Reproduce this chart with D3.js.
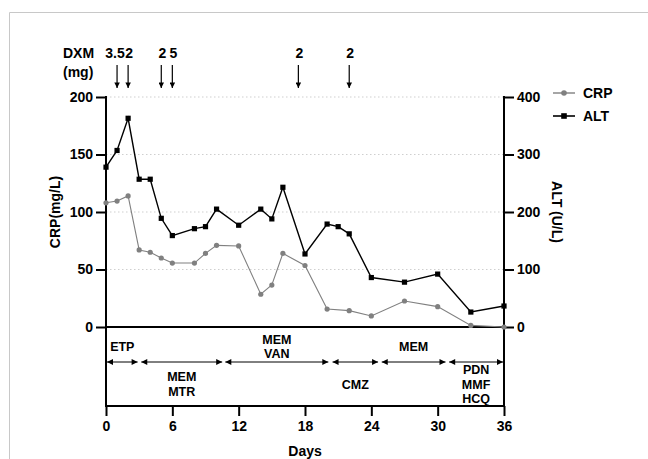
<!DOCTYPE html>
<html>
<head>
<meta charset="utf-8">
<script src="https://cdn.jsdelivr.net/npm/d3@7"></script>
<style>
  body { margin: 0; background: #fff; }
  svg text { font-family: "Liberation Sans", Arial, sans-serif; font-weight: bold; }
</style>
</head>
<body>
<svg id="chart" width="648" height="459"></svg>
<script>
// data
const crpDays = [0, 1, 2, 3, 4, 5, 6, 8, 9, 10, 12, 14, 15, 16, 18, 20, 22, 24, 27, 30, 33, 36];
const crpValues = [108, 109.5, 114, 67, 65, 60, 55.6, 55.6, 64, 71, 70.5, 28.5, 36.5, 64, 53.5, 15.6, 14.2, 9.6, 22.6, 17.7, 1.4, 0];
const altDays = [0, 1, 2, 3, 4, 5, 6, 8, 9, 10, 12, 14, 15, 16, 18, 20, 21, 22, 24, 27, 30, 33, 36];
const altValues = [278, 307, 363, 257, 257, 189, 159, 171, 174.5, 205, 177, 205, 188, 243, 127, 179, 174.5, 162, 86, 78, 92, 26, 36.5];

const dxmDays = [1, 2, 5, 6, 17.4, 22];
const dxmDoses = ['3.5', '2', '2', '5', '2', '2'];

const crpTicks = [0, 50, 100, 150, 200];
const altTicks = [0, 100, 200, 300, 400];
const dayTicks = [0, 6, 12, 18, 24, 30, 36];

// treatments: start day, end day, text lines, label above/below the arrow
const drugStart = [0, 3.1, 10.7, 20.4, 24.85, 30.95];
const drugEnd = [2.95, 10.6, 20.2, 24.7, 30.8, 36];
const drugNames = [['ETP'], ['MEM', 'MTR'], ['MEM', 'VAN'], ['CMZ'], ['MEM'], ['PDN', 'MMF', 'HCQ']];
const drugAbove = [true, false, true, false, true, false];

const svg = d3.select('#chart');

// light frame of the picture
svg.append('path')
    .attr('d', 'M9.5 459 V12.5 H648')
    .attr('fill', 'none')
    .attr('stroke', '#c8c8c8');

const plotLeft = 106, plotRight = 504, plotTop = 97, zeroY = 327, boxBottom = 406;

const x = d3.scaleLinear().domain([0, 36]).range([plotLeft, plotRight]);
const yCrp = d3.scaleLinear().domain([0, 200]).range([zeroY, plotTop]);
const yAlt = d3.scaleLinear().domain([0, 400]).range([zeroY, plotTop]);

// dotted grid
svg.append('g').selectAll('line')
    .data(crpTicks.filter(d => d > 0))
    .join('line')
    .attr('x1', plotLeft).attr('x2', plotRight)
    .attr('y1', d => yCrp(d)).attr('y2', d => yCrp(d))
    .attr('stroke', '#cfcfcf')
    .attr('stroke-dasharray', '1.5,2.5');

// left axis
const gl = svg.append('g')
    .attr('transform', `translate(${plotLeft},0)`)
    .call(d3.axisLeft(yCrp).tickValues(crpTicks).tickSize(10).tickPadding(3));
// right axis
const gr = svg.append('g')
    .attr('transform', `translate(${plotRight},0)`)
    .call(d3.axisRight(yAlt).tickValues(altTicks).tickSize(10).tickPadding(3));
// bottom axis
const gb = svg.append('g')
    .attr('transform', `translate(0,${boxBottom})`)
    .call(d3.axisBottom(x).tickValues(dayTicks).tickSize(10).tickPadding(5));

[gl, gr, gb].forEach(g => {
    g.select('.domain').remove();
    g.selectAll('.tick line').attr('stroke', '#000').attr('stroke-width', 2);
    g.selectAll('.tick text').attr('font-size', 14).attr('fill', '#000')
        .style('font-family', '"Liberation Sans", Arial, sans-serif').style('font-weight', 'bold');
});

// axis frame: left and right verticals, zero line, box bottom
const frame = svg.append('g').attr('stroke', '#000').attr('stroke-width', 2);
frame.append('line').attr('x1', plotLeft).attr('x2', plotLeft).attr('y1', plotTop - 1).attr('y2', boxBottom + 1);
frame.append('line').attr('x1', plotRight).attr('x2', plotRight).attr('y1', plotTop - 1).attr('y2', boxBottom + 1);
frame.append('line').attr('x1', plotLeft).attr('x2', plotRight).attr('y1', zeroY).attr('y2', zeroY);
frame.append('line').attr('x1', plotLeft).attr('x2', plotRight).attr('y1', boxBottom).attr('y2', boxBottom);

// axis titles
svg.append('text')
    .attr('transform', `translate(60,${(plotTop + zeroY) / 2}) rotate(-90)`)
    .attr('text-anchor', 'middle').attr('font-size', 14)
    .text('CRP(mg/L)');
svg.append('text')
    .attr('transform', `translate(552,${(plotTop + zeroY) / 2}) rotate(90)`)
    .attr('text-anchor', 'middle').attr('font-size', 14)
    .text('ALT (U/L)');
svg.append('text')
    .attr('x', (plotLeft + plotRight) / 2).attr('y', 456)
    .attr('text-anchor', 'middle').attr('font-size', 14)
    .text('Days');

// series
const crpPts = crpDays.map((d, i) => [d, crpValues[i]]);
const altPts = altDays.map((d, i) => [d, altValues[i]]);

svg.append('path')
    .datum(crpPts)
    .attr('fill', 'none').attr('stroke', '#808080').attr('stroke-width', 1.1)
    .attr('d', d3.line().x(d => x(d[0])).y(d => yCrp(d[1])));
svg.append('g').selectAll('circle')
    .data(crpPts)
    .join('circle')
    .attr('cx', d => x(d[0])).attr('cy', d => yCrp(d[1]))
    .attr('r', 2.6).attr('fill', '#808080');

svg.append('path')
    .datum(altPts)
    .attr('fill', 'none').attr('stroke', '#000').attr('stroke-width', 1.4)
    .attr('d', d3.line().x(d => x(d[0])).y(d => yAlt(d[1])));
svg.append('g').selectAll('rect')
    .data(altPts)
    .join('rect')
    .attr('x', d => x(d[0]) - 2.6).attr('y', d => yAlt(d[1]) - 2.6)
    .attr('width', 5.2).attr('height', 5.2).attr('fill', '#000');

// arrow markers
const defs = svg.append('defs');
defs.append('marker')
    .attr('id', 'down').attr('viewBox', '0 0 10 10')
    .attr('refX', 10).attr('refY', 5)
    .attr('markerWidth', 6).attr('markerHeight', 5.5)
    .attr('markerUnits', 'userSpaceOnUse')
    .attr('orient', 'auto')
    .append('path').attr('d', 'M0 0 L10 5 L0 10 Z').attr('fill', '#000');
defs.append('marker')
    .attr('id', 'tip').attr('viewBox', '0 0 10 10')
    .attr('refX', 10).attr('refY', 5)
    .attr('markerWidth', 7).attr('markerHeight', 6)
    .attr('markerUnits', 'userSpaceOnUse')
    .attr('orient', 'auto-start-reverse')
    .append('path').attr('d', 'M0 0 L10 5 L0 10 Z').attr('fill', '#000');

// DXM doses
svg.append('text').attr('x', 63).attr('y', 58).attr('font-size', 14).text('DXM');
svg.append('text').attr('x', 63).attr('y', 77).attr('font-size', 14).text('(mg)');

const dxm = svg.append('g');
dxmDays.forEach((d, i) => {
    dxm.append('line')
        .attr('x1', x(d)).attr('x2', x(d))
        .attr('y1', 65).attr('y2', 88)
        .attr('stroke', '#000').attr('stroke-width', 1.2)
        .attr('marker-end', 'url(#down)');
    dxm.append('text')
        .attr('x', x(d) + (dxmDoses[i] === '3.5' ? -2 : 1)).attr('y', 58)
        .attr('text-anchor', 'middle').attr('font-size', 14)
        .text(dxmDoses[i]);
});

// legend
const legend = svg.append('g');
legend.append('line').attr('x1', 553).attr('x2', 575).attr('y1', 93).attr('y2', 93)
    .attr('stroke', '#808080').attr('stroke-width', 1.4);
legend.append('circle').attr('cx', 564).attr('cy', 93).attr('r', 2.8).attr('fill', '#808080');
legend.append('text').attr('x', 583).attr('y', 98).attr('font-size', 14).text('CRP');
legend.append('line').attr('x1', 553).attr('x2', 575).attr('y1', 116).attr('y2', 116)
    .attr('stroke', '#000').attr('stroke-width', 1.6);
legend.append('rect').attr('x', 561.2).attr('y', 113.2).attr('width', 5.6).attr('height', 5.6).attr('fill', '#000');
legend.append('text').attr('x', 583).attr('y', 121).attr('font-size', 14).text('ALT');

// treatments
const arrowY = 362;
const aboveMid = 346.5, belowMid = 384, step = 14.7;
const drugs = svg.append('g');
drugStart.forEach((s, i) => {
    drugs.append('line')
        .attr('x1', x(s) + 1).attr('x2', x(drugEnd[i]) - 1)
        .attr('y1', arrowY).attr('y2', arrowY)
        .attr('stroke', '#000').attr('stroke-width', 1)
        .attr('marker-start', 'url(#tip)')
        .attr('marker-end', 'url(#tip)');
    const names = drugNames[i];
    const cx = x((s + drugEnd[i]) / 2);
    const mid = drugAbove[i] ? aboveMid : belowMid;
    names.forEach((n, j) => {
        const y = mid + (j - (names.length - 1) / 2) * step + 4.5;
        drugs.append('text')
            .attr('x', cx).attr('y', y)
            .attr('text-anchor', 'middle').attr('font-size', 12.5)
            .text(n);
    });
});
</script>
</body>
</html>
